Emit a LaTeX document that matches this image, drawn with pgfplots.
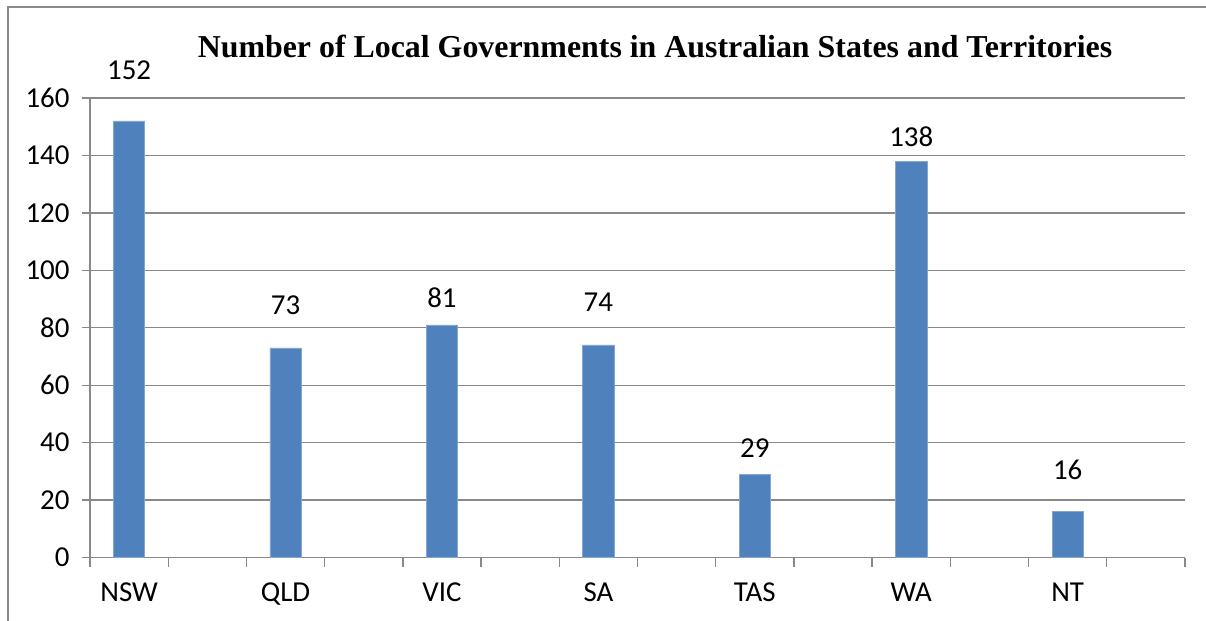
\documentclass[border=0pt]{standalone}
\usepackage{pgfplots}
\pgfplotsset{compat=1.18}
\usepackage{fontspec}
\setmainfont{Carlito}
\newfontfamily\titlefont{Liberation Serif}
\definecolor{barblue}{HTML}{4F81BD}
\definecolor{gridgray}{HTML}{898989}
\begin{document}
\begin{tikzpicture}
\useasboundingbox (0bp,0bp) rectangle (1206bp,-621bp);
\fill[white] (0bp,0bp) rectangle (1206bp,-621bp);
\draw[gridgray, line width=1.3bp] (8bp,-621bp) -- (8bp,-7bp) -- (1206bp,-7bp);
\node[anchor=base, font=\titlefont\bfseries\fontsize{32}{38}\selectfont, inner sep=0pt] at (655bp,-57bp) {Number of Local Governments in Australian States and Territories};
\begin{axis}[
  at={(90bp,-557.5bp)}, anchor=south west,
  scale only axis, width=1095bp, height=459.5bp,
  xmin=-0.5, xmax=13.5, ymin=0, ymax=160,
  ytick={0,20,...,160},
  xtick={0,2,...,12},
  xticklabels={NSW,QLD,VIC,SA,TAS,WA,NT},
  minor xtick={-0.5,0.5,...,13.5},
  axis x line*=bottom, axis y line*=left,
  axis line style={-, draw=gridgray, line width=1.3bp},
  tick align=outside,
  major tick length=8bp,
  minor tick length=9bp,
  major x tick style={draw=none},
  minor x tick style={draw=gridgray, line width=1.3bp},
  major y tick style={draw=gridgray, line width=1.3bp},
  ymajorgrids,
  major grid style={draw=gridgray, line width=1.3bp},
  tick label style={font=\fontsize{29}{34}\selectfont, text=black},
  xticklabel style={yshift=-14bp},
  yticklabel style={xshift=-9bp},
  /pgf/number format/assume math mode=true,
  clip=false,
]
\addplot[ybar, bar width=0.4, fill=barblue, draw=barblue!70!white, line width=0.6bp] coordinates {
  (0,152) (2,73) (4,81) (6,74) (8,29) (10,138) (12,16)
};
\addplot[only marks, mark=none, nodes near coords, point meta=explicit symbolic,
  nodes near coords align={center},
  every node near coord/.append style={font=\fontsize{29}{34}\selectfont, text=black, inner sep=0pt}]
  coordinates {
  (0,169.7)[152] (2,87.9)[73] (4,90.4)[81] (6,88.8)[74] (8,38.1)[29] (10,146.4)[138] (12,30.5)[16]
};
\end{axis}
\end{tikzpicture}
\end{document}
